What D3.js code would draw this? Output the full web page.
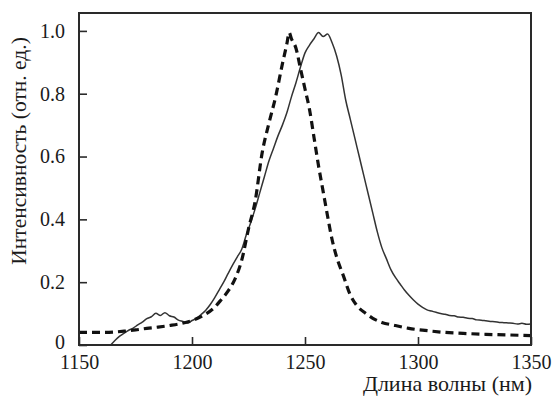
<!DOCTYPE html>
<html>
<head>
<meta charset="utf-8">
<script src="https://cdn.jsdelivr.net/npm/d3@7"></script>
<style>
  html, body { margin: 0; padding: 0; background: #fff; }
  svg { display: block; }
</style>
</head>
<body>
<svg id="chart" width="553" height="407"></svg>
<script>
// ---- data ----
const xTicks = [1150, 1200, 1250, 1300, 1350];
const yTicks = [0, 0.2, 0.4, 0.6, 0.8, 1.0];

// dashed spectrum
const dashedWavelength = [1150, 1160, 1165, 1170, 1175, 1180, 1185, 1190, 1195, 1200, 1205, 1210, 1213, 1216, 1219, 1222, 1225, 1228, 1231, 1234, 1237, 1240, 1242, 1243, 1244, 1246, 1248, 1250, 1252, 1254, 1256, 1258, 1260, 1262, 1264, 1267, 1270, 1273, 1277, 1280, 1284, 1290, 1296, 1305, 1312, 1320, 1330, 1340, 1350];
const dashedIntensity  = [0.040, 0.040, 0.041, 0.044, 0.048, 0.053, 0.057, 0.062, 0.068, 0.078, 0.094, 0.120, 0.145, 0.172, 0.210, 0.270, 0.370, 0.460, 0.610, 0.705, 0.790, 0.895, 0.960, 0.995, 0.975, 0.945, 0.880, 0.815, 0.750, 0.660, 0.570, 0.490, 0.410, 0.335, 0.280, 0.220, 0.160, 0.125, 0.100, 0.085, 0.072, 0.062, 0.053, 0.045, 0.040, 0.037, 0.034, 0.032, 0.030];

// solid (noisy) spectrum
const solidWavelength = [1164, 1166, 1168, 1170, 1172, 1174, 1176, 1178, 1180, 1182, 1184, 1186, 1188, 1190, 1192, 1194, 1196, 1198, 1200, 1202, 1204, 1206, 1208, 1210, 1212, 1214, 1216, 1218, 1220, 1222, 1224, 1226, 1228, 1230, 1232, 1234, 1236, 1238, 1240, 1242, 1244, 1246, 1248, 1250, 1252, 1254, 1256, 1258, 1260, 1262, 1264, 1266, 1268, 1270, 1272, 1274, 1276, 1278, 1280, 1282, 1284, 1286, 1288, 1290, 1292, 1294, 1296, 1298, 1300, 1302, 1304, 1306, 1308, 1310, 1312, 1314, 1316, 1318, 1320, 1322, 1324, 1326, 1328, 1330, 1332, 1334, 1336, 1338, 1340, 1342, 1344, 1346, 1348, 1350];
const solidIntensity  = [0.000, 0.015, 0.028, 0.038, 0.047, 0.054, 0.064, 0.073, 0.084, 0.090, 0.101, 0.094, 0.103, 0.093, 0.089, 0.079, 0.075, 0.070, 0.078, 0.085, 0.097, 0.110, 0.128, 0.150, 0.175, 0.200, 0.228, 0.255, 0.280, 0.305, 0.350, 0.390, 0.435, 0.485, 0.535, 0.585, 0.625, 0.665, 0.700, 0.740, 0.790, 0.835, 0.885, 0.930, 0.955, 0.975, 0.995, 0.982, 0.990, 0.962, 0.920, 0.860, 0.780, 0.720, 0.660, 0.600, 0.540, 0.480, 0.420, 0.360, 0.310, 0.275, 0.240, 0.215, 0.195, 0.175, 0.158, 0.143, 0.130, 0.120, 0.112, 0.108, 0.104, 0.100, 0.098, 0.094, 0.093, 0.089, 0.088, 0.085, 0.084, 0.080, 0.079, 0.077, 0.075, 0.074, 0.072, 0.071, 0.070, 0.069, 0.067, 0.069, 0.066, 0.067, 0.065];

const xLabel = "Длина волны (нм)";
const yLabel = "Интенсивность (отн. ед.)";

// ---- layout ----
const svg = d3.select("#chart");
const mLeft = 79, mRight = 531, mTop = 13, mBottom = 345;

const x = d3.scaleLinear().domain([1150, 1350]).range([mLeft, mRight]);
const y = d3.scaleLinear().domain([0, 1.057]).range([mBottom, mTop]);

const axisColor = "#2a2a2a";
const textColor = "#1a1a1a";
const serif = '"Liberation Serif", "Noto Serif", "DejaVu Serif", "Times New Roman", serif';

// curves
const dashedData = dashedWavelength.map((w, i) => [w, dashedIntensity[i]]);
const solidData = solidWavelength.map((w, i) => [w, solidIntensity[i]]);

const line = d3.line().x(d => x(d[0])).y(d => y(d[1])).curve(d3.curveMonotoneX);

svg.append("path")
  .datum(solidData)
  .attr("d", line)
  .attr("fill", "none")
  .attr("stroke", "#333")
  .attr("stroke-width", 1.5);

svg.append("path")
  .datum(dashedData)
  .attr("d", line)
  .attr("fill", "none")
  .attr("stroke", "#111")
  .attr("stroke-width", 3.2)
  .attr("stroke-dasharray", "8,5");

// frame
svg.append("rect")
  .attr("x", mLeft).attr("y", mTop)
  .attr("width", mRight - mLeft).attr("height", mBottom - mTop)
  .attr("fill", "none")
  .attr("stroke", axisColor)
  .attr("stroke-width", 2);

// axes with inward ticks
const xAxis = d3.axisBottom(x).tickValues(xTicks).tickSizeInner(-8).tickSizeOuter(0).tickPadding(10).tickFormat(d3.format("d"));
const gx = svg.append("g").attr("transform", `translate(0,${mBottom})`).call(xAxis)
  .attr("font-family", serif).attr("font-size", 20);
gx.select(".domain").remove();
gx.selectAll(".tick line").attr("stroke", axisColor).attr("stroke-width", 1.6);
gx.selectAll(".tick text").attr("fill", textColor);

const yAxis = d3.axisLeft(y).tickValues(yTicks).tickSizeInner(-8).tickSizeOuter(0).tickPadding(14)
  .tickFormat(d => d === 0 ? "0" : d.toFixed(1));
const gy = svg.append("g").attr("transform", `translate(${mLeft},0)`).call(yAxis)
  .attr("font-family", serif).attr("font-size", 20);
gy.select(".domain").remove();
gy.selectAll(".tick line").attr("stroke", axisColor).attr("stroke-width", 1.6);
gy.selectAll(".tick text").attr("fill", textColor)
  .attr("dy", d => d === 0 ? "0.15em" : "0.32em");

// labels
svg.append("text")
  .attr("x", 532).attr("y", 391)
  .attr("text-anchor", "end")
  .attr("font-family", serif)
  .attr("font-size", 22)
  .attr("fill", textColor)
  .text(xLabel);

svg.append("text")
  .attr("transform", "translate(26,151) rotate(-90)")
  .attr("text-anchor", "middle")
  .attr("font-family", serif)
  .attr("font-size", 21.5)
  .attr("fill", textColor)
  .text(yLabel);
</script>
</body>
</html>
